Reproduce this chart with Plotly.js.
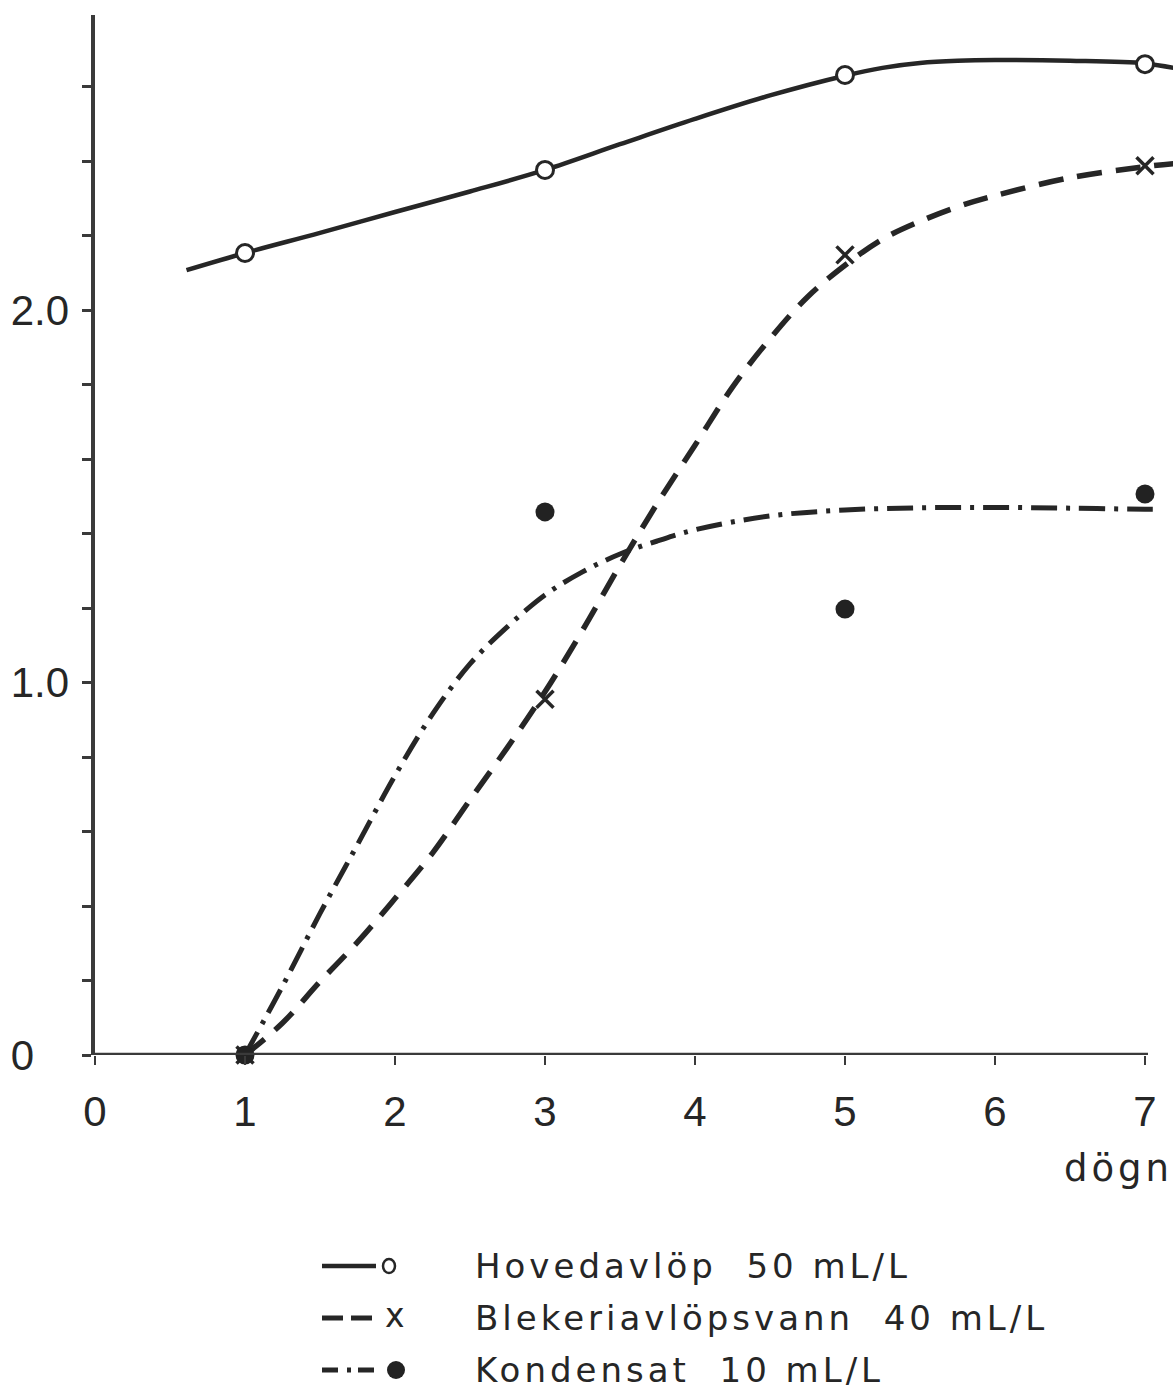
<!DOCTYPE html>
<html>
<head>
<meta charset="utf-8">
<script src="https://cdn.plot.ly/plotly-3.0.1.min.js"></script>
<style>
  html, body { margin: 0; padding: 0; background: #ffffff; }
  #chart { width: 1173px; height: 1394px; }
  .annotation-text { letter-spacing: 4px; }
</style>
</head>
<body>
<div id="chart"></div>
<script>
// ---- data ----
const days = [1, 3, 5, 7];

// Hovedavlöp 50 mL/L (solid, open circles)
const hovedPoints = [2.153, 2.376, 2.631, 2.660];
const hovedCurveX = [0.61, 1.0, 1.5, 2.0, 2.5, 3.0, 3.5, 4.0, 4.5, 5.0, 5.25, 5.5, 5.75, 6.0, 6.5, 7.0, 7.19];
const hovedCurveY = [2.107, 2.153, 2.207, 2.263, 2.318, 2.376, 2.445, 2.513, 2.576, 2.629, 2.650, 2.663, 2.669, 2.671, 2.669, 2.662, 2.650];

// Blekeriavlöpsvann 40 mL/L (dashed, crosses)
const blekPoints = [0, 0.955, 2.148, 2.387];
const blekCurveX = [1.0, 1.25, 1.5, 1.75, 2.0, 2.25, 2.5, 2.75, 3.0, 3.25, 3.5, 3.75, 4.0, 4.25, 4.5, 4.75, 5.0, 5.25, 5.5, 5.75, 6.0, 6.5, 7.0, 7.19];
const blekCurveY = [0, 0.086, 0.197, 0.303, 0.420, 0.542, 0.685, 0.826, 0.975, 1.140, 1.315, 1.482, 1.637, 1.793, 1.923, 2.035, 2.120, 2.190, 2.238, 2.277, 2.307, 2.355, 2.385, 2.393];

// Kondensat 10 mL/L (dash-dot, filled circles)
const kondPoints = [0, 1.458, 1.197, 1.506];
const kondCurveX = [1.0, 1.25, 1.5, 1.75, 2.0, 2.25, 2.5, 2.75, 3.0, 3.25, 3.5, 3.75, 4.0, 4.5, 5.0, 5.5, 6.0, 6.5, 7.0, 7.1];
const kondCurveY = [0, 0.185, 0.380, 0.565, 0.750, 0.915, 1.050, 1.150, 1.235, 1.297, 1.345, 1.380, 1.410, 1.447, 1.463, 1.469, 1.470, 1.468, 1.465, 1.465];

// axis ticks and labels
const xTickVals = [0, 1, 2, 3, 4, 5, 6, 7];
const xTickText = ['0', '1', '2', '3', '4', '5', '6', '7'];
const yTickVals = [0, 0.2, 0.4, 0.6, 0.8, 1.0, 1.2, 1.4, 1.6, 1.8, 2.0, 2.2, 2.4, 2.6];
const yTickText = ['0\u2007\u2008', '', '', '', '', '1.0', '', '', '', '', '2.0', '', '', ''];
const xAxisLabel = 'dögn';

const seriesNames = ['Hovedavlöp', 'Blekeriavlöpsvann', 'Kondensat'];
const seriesDoses = ['50 mL/L', '40 mL/L', '10 mL/L'];

// ---- styling ----
const INK = '#262626';
const AXIS_INK = '#3a3a3a';
const W = 1173, H = 1394;
const M = {l: 95, r: 0, t: 15, b: 339};
const PXX = 150, PXY = 372.5;
const plotW = W - M.l - M.r, plotH = H - M.t - M.b;

function px2paperX(px) { return (px - M.l) / plotW; }
function px2paperY(py) { return (H - M.b - py) / plotH; }

const traces = [
  {x: hovedCurveX, y: hovedCurveY, mode: 'lines', line: {color: INK, width: 4.5, shape: 'spline', smoothing: 1}},
  {x: blekCurveX, y: blekCurveY, mode: 'lines', line: {color: INK, width: 5.5, dash: '25px,14px', shape: 'spline', smoothing: 1}},
  {x: kondCurveX, y: kondCurveY, mode: 'lines', line: {color: INK, width: 5, dash: '26px,9px,4px,9px', shape: 'spline', smoothing: 1}},
  {x: days, y: hovedPoints, mode: 'markers', cliponaxis: false,
   marker: {symbol: 'circle', size: 17, color: '#ffffff', line: {color: INK, width: 3}}},
  {x: days, y: blekPoints, mode: 'markers', cliponaxis: false,
   marker: {symbol: 'x-thin', size: 17, color: INK, line: {color: INK, width: 3.5}}},
  {x: days, y: kondPoints, mode: 'markers', cliponaxis: false,
   marker: {symbol: 'circle', size: 19, color: '#222222', line: {width: 0}}}
];

// legend rows (pixel centre lines)
const rowY = [1266, 1318, 1370];
const sampleX0 = 322, sampleX1 = 378, glyphX = 393, textX = 473;

const shapes = [
  // x axis line from 0 to 7
  {type: 'line', xref: 'x', yref: 'y', x0: 0, x1: 7.02, y0: 0, y1: 0, line: {color: AXIS_INK, width: 4.5}},
  // legend samples
  {type: 'line', xref: 'paper', yref: 'paper', x0: px2paperX(sampleX0), x1: px2paperX(sampleX1 - 2),
   y0: px2paperY(rowY[0]), y1: px2paperY(rowY[0]), line: {color: INK, width: 4.5}},
  {type: 'line', xref: 'paper', yref: 'paper', x0: px2paperX(sampleX0), x1: px2paperX(sampleX1 - 4),
   y0: px2paperY(rowY[1]), y1: px2paperY(rowY[1]), line: {color: INK, width: 5, dash: '21px,8px'}},
  {type: 'line', xref: 'paper', yref: 'paper', x0: px2paperX(sampleX0), x1: px2paperX(sampleX1),
   y0: px2paperY(rowY[2]), y1: px2paperY(rowY[2]), line: {color: INK, width: 5, dash: '16px,9px,4px,7px'}},
  {type: 'circle', xref: 'paper', yref: 'paper', xsizemode: 'pixel', ysizemode: 'pixel',
   xanchor: px2paperX(glyphX - 4), yanchor: px2paperY(rowY[0]), x0: -6, x1: 6, y0: -7, y1: 7,
   line: {color: INK, width: 2.5}, fillcolor: '#ffffff'},
  {type: 'circle', xref: 'paper', yref: 'paper', xsizemode: 'pixel', ysizemode: 'pixel',
   xanchor: px2paperX(glyphX + 3), yanchor: px2paperY(rowY[2]), x0: -9, x1: 9, y0: -9, y1: 9,
   line: {width: 0}, fillcolor: '#222222'}
];

const annotations = [
  {xref: 'paper', yref: 'paper', x: px2paperX(1062), y: px2paperY(1168), xanchor: 'left', yanchor: 'middle',
   text: xAxisLabel, showarrow: false, font: {family: 'DejaVu Sans', size: 37, color: INK}},
  {xref: 'paper', yref: 'paper', x: px2paperX(glyphX - 10), y: px2paperY(rowY[1] - 3), xanchor: 'left', yanchor: 'middle',
   text: 'x', showarrow: false, font: {family: 'DejaVu Sans', size: 33, color: INK}}
];
for (let i = 0; i < seriesNames.length; i++) {
  annotations.push({
    xref: 'paper', yref: 'paper', x: px2paperX(textX), y: px2paperY(rowY[i]),
    xanchor: 'left', yanchor: 'middle', showarrow: false,
    text: seriesNames[i] + '  ' + seriesDoses[i],
    font: {family: 'DejaVu Sans', size: 34, color: INK}
  });
}

const layout = {
  width: W, height: H,
  margin: M,
  paper_bgcolor: '#ffffff', plot_bgcolor: '#ffffff',
  showlegend: false,
  hovermode: false,
  xaxis: {
    range: [0, plotW / PXX], showgrid: false, zeroline: false, showline: false,
    tickmode: 'array', tickvals: xTickVals, ticktext: xTickText,
    ticks: 'outside', ticklen: 9, tickwidth: 2.5, tickcolor: AXIS_INK,
    ticklabelstandoff: 11,
    tickfont: {family: 'Liberation Sans', size: 42, color: INK}
  },
  yaxis: {
    range: [0, plotH / PXY], showgrid: false, zeroline: false,
    showline: true, linecolor: AXIS_INK, linewidth: 4.5,
    tickmode: 'array', tickvals: yTickVals, ticktext: yTickText,
    ticks: 'outside', ticklen: 9, tickwidth: 3, tickcolor: AXIS_INK,
    ticklabelstandoff: 4,
    tickfont: {family: 'Liberation Sans', size: 42, color: INK}
  },
  shapes: shapes,
  annotations: annotations
};

Plotly.newPlot('chart', traces, layout, {staticPlot: true, displayModeBar: false});
</script>
</body>
</html>
